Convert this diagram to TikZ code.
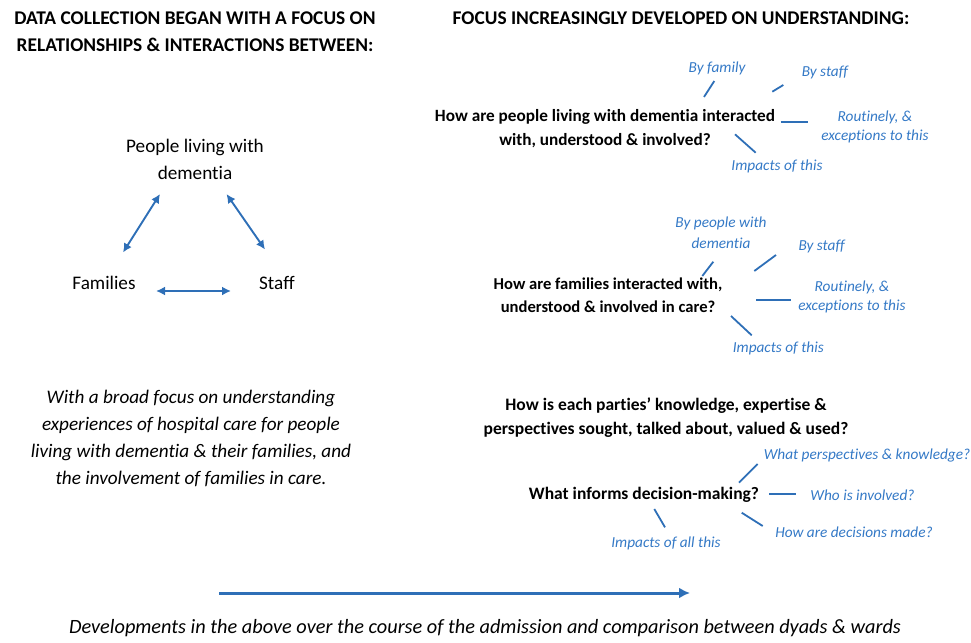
\documentclass[tikz,border=0pt]{standalone}
\usepackage{fontspec}
\setmainfont{Carlito}[Ligatures={NoCommon,NoContextual},Contextuals=NoAlternate]
\usetikzlibrary{arrows.meta}
\definecolor{bluetxt}{HTML}{3479C6}
\definecolor{blueln}{HTML}{2E6FB7}
\tikzset{
  lbl/.style={inner sep=0pt, align=center, text=black},
  title/.style={lbl, font=\fontsize{19.4}{27}\selectfont\bfseries},
  tri/.style={lbl, font=\fontsize{19.2}{27}\selectfont},
  para/.style={lbl, font=\fontsize{19.2}{27}\selectfont\itshape},
  quest/.style={lbl, font=\fontsize{17.5}{24}\selectfont\bfseries},
  sub/.style={inner sep=0pt, align=center, text=bluetxt, font=\fontsize{15.3}{19}\selectfont\itshape},
  tick/.style={draw=blueln, line width=1.8pt},
  dbl/.style={draw=blueln, line width=1.9pt, {Latex[length=9pt,width=9pt]}-{Latex[length=9pt,width=9pt]}},
  timeline/.style={draw=blueln, line width=3pt, -{Latex[length=11pt,width=11pt]}}
}
\begin{document}
\begin{tikzpicture}[x=1pt,y=-1pt]
\useasboundingbox (0,0) rectangle (971,642);
% titles
\node[title] (tl) at (195,31.5) {DATA COLLECTION BEGAN WITH A FOCUS ON\\RELATIONSHIPS \& INTERACTIONS BETWEEN:};
\node[title] (tr) at (681,18) {FOCUS INCREASINGLY DEVELOPED ON UNDERSTANDING:};
% triangle
\node[tri] (pl) at (195,159.5) {People living with\\dementia};
\node[tri] (fam) at (104,283) {Families};
\node[tri] (stf) at (277,283) {Staff};
\coordinate (a1s) at (123,252.5);
\coordinate (a1e) at (160,194);
\coordinate (a2s) at (226.5,194);
\coordinate (a2e) at (265,249.5);
\coordinate (a3s) at (156,291);
\coordinate (a3e) at (231,291);
\draw[dbl] (a1s) -- (a1e);
\draw[dbl] (a2s) -- (a2e);
\draw[dbl] (a3s) -- (a3e);
% paragraph
\node[para] (par) at (191,438.5) {With a broad focus on understanding\\experiences of hospital care for people\\living with dementia \& their families, and\\the involvement of families in care.};
% Q1
\node[quest, font=\fontsize{17.2}{24}\selectfont\bfseries] (q1) at (605,129) {How are people living with dementia interacted\\with, understood \& involved?};
\node[sub] (q1a) at (717,68) {By family};
\node[sub] (q1b) at (825,72) {By staff};
\node[sub] (q1c) at (875,126.5) {Routinely, \&\\exceptions to this};
\node[sub] (q1d) at (777,166) {Impacts of this};
\coordinate (t1as) at (714.3,81); \coordinate (t1ae) at (704,97);
\coordinate (t1bs) at (783.3,85); \coordinate (t1be) at (772.3,91.7);
\coordinate (t1cs) at (780.7,122.3); \coordinate (t1ce) at (807.7,122.3);
\coordinate (t1ds) at (735,134.3); \coordinate (t1de) at (755.7,152.7);
\draw[tick] (t1as) -- (t1ae);
\draw[tick] (t1bs) -- (t1be);
\draw[tick] (t1cs) -- (t1ce);
\draw[tick] (t1ds) -- (t1de);
% Q2
\node[quest, font=\fontsize{16.6}{23.4}\selectfont\bfseries] (q2) at (608,295) {How are families interacted with,\\understood \& involved in care?};
\node[sub, font=\fontsize{15.3}{21}\selectfont\itshape] (q2a) at (721,233) {By people with\\dementia};
\node[sub] (q2b) at (821.7,246) {By staff};
\node[sub] (q2c) at (852,296.5) {Routinely, \&\\exceptions to this};
\node[sub] (q2d) at (778.3,348.5) {Impacts of this};
\coordinate (t2as) at (713.3,261.7); \coordinate (t2ae) at (702.3,276);
\coordinate (t2bs) at (776,255); \coordinate (t2be) at (754.3,271);
\coordinate (t2cs) at (756,300); \coordinate (t2ce) at (790.7,300);
\coordinate (t2ds) at (731,316); \coordinate (t2de) at (751.7,335.3);
\draw[tick] (t2as) -- (t2ae);
\draw[tick] (t2bs) -- (t2be);
\draw[tick] (t2cs) -- (t2ce);
\draw[tick] (t2ds) -- (t2de);
% Q3
\node[quest] (q3) at (666,417.5) {How is each parties’ knowledge, expertise \&\\perspectives sought, talked about, valued \& used?};
\node[quest] (q4) at (644,495) {What informs decision-making?};
\node[sub] (q4a) at (867,455.5) {What perspectives \& knowledge?};
\node[sub] (q4b) at (862.5,495.5) {Who is involved?};
\node[sub] (q4c) at (854,532) {How are decisions made?};
\node[sub] (q4d) at (666,543.5) {Impacts of all this};
\coordinate (t4as) at (757.7,464); \coordinate (t4ae) at (739,482.7);
\coordinate (t4bs) at (769,494.3); \coordinate (t4be) at (796,494.3);
\coordinate (t4cs) at (741.7,512.7); \coordinate (t4ce) at (762.7,526);
\coordinate (t4ds) at (654.3,509); \coordinate (t4de) at (665,527.3);
\draw[tick] (t4as) -- (t4ae);
\draw[tick] (t4bs) -- (t4be);
\draw[tick] (t4cs) -- (t4ce);
\draw[tick] (t4ds) -- (t4de);
% timeline
\coordinate (tls) at (219,593);
\coordinate (tle) at (690,593);
\draw[timeline] (tls) -- (tle);
\node[para, font=\fontsize{20.3}{27}\selectfont\itshape] (bot) at (485,628) {Developments in the above over the course of the admission and comparison between dyads \& wards};
\end{tikzpicture}
\end{document}
